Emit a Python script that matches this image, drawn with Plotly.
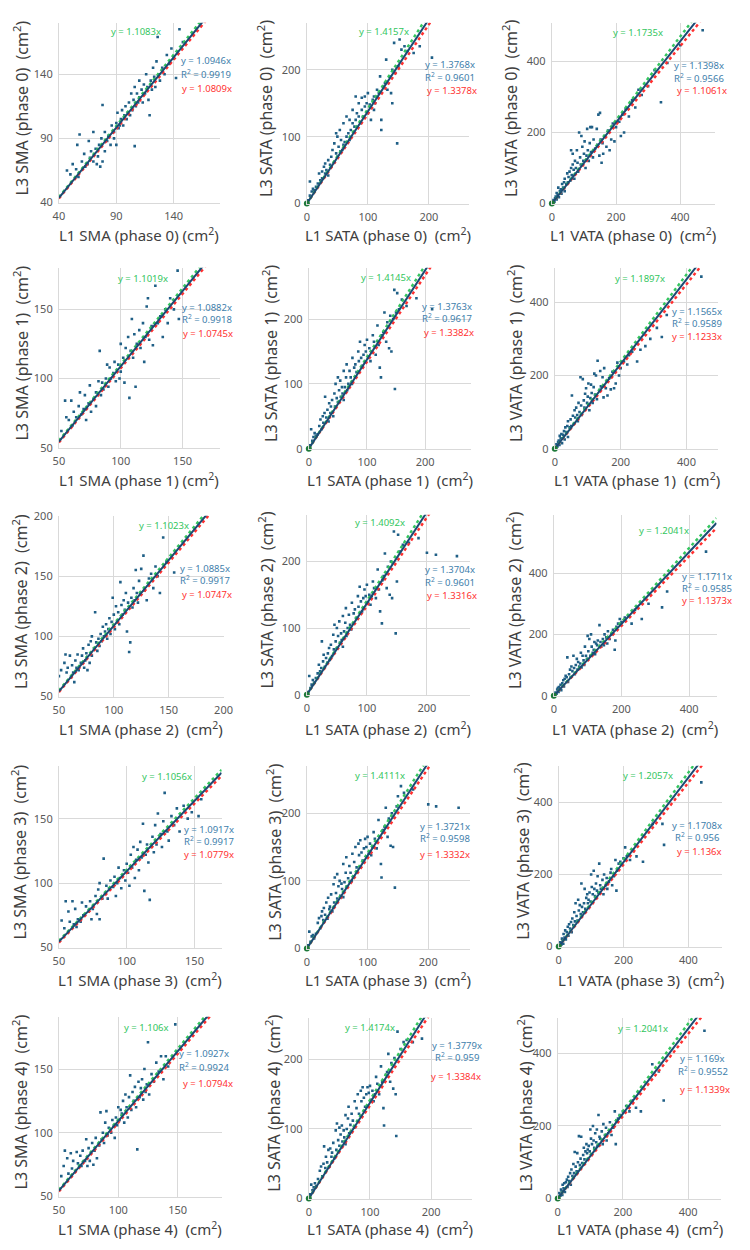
import plotly.graph_objects as go

# ---------------- data (L1 value, L3 value) pairs ----------------
sma_ph0 = [(47,65),(50,62),(52,70),(55,66),(57,60),(58,93),(56,85),(60,72),(62,78),(63,68),(65,70),(66,88),(67,75),(68,80),(70,72),(70,95),(72,82),(73,70),(74,76),(75,85),(76,68),(77,90),(78,72),(78,116),(80,80),(80,95),(82,88),(83,92),(85,85),(86,100),(88,95),(88,90),(90,102),(90,85),(91,110),(92,98),(93,100),(94,105),(95,112),(96,100),(97,108),(98,115),(99,105),(100,110),(101,118),(102,108),(103,125),(104,112),(105,120),(106,84),(106,130),(107,115),(108,125),(109,118),(110,122),(110,135),(112,128),(113,118),(114,132),(115,125),(116,140),(117,130),(118,120),(119,108),(120,135),(121,128),(122,145),(123,138),(124,130),(125,150),(126,169),(127,140),(128,135),(130,145),(132,140),(134,155),(136,148),(138,160),(140,152),(142,137),(145,175),(148,165)]
sata_ph0 = [(2,5),(5,12),(8,18),(5,33),(10,22),(12,20),(15,25),(18,30),(20,45),(22,35),(25,48),(25,38),(28,55),(30,45),(30,60),(32,50),(35,65),(35,42),(38,58),(40,70),(40,55),(42,80),(45,62),(45,90),(48,75),(48,105),(50,70),(50,100),(52,85),(54,110),(55,78),(56,95),(58,80),(60,88),(60,120),(62,92),(65,100),(65,130),(68,105),(70,95),(70,125),(72,110),(75,120),(75,140),(78,115),(80,125),(80,160),(82,135),(85,130),(85,150),(88,120),(90,140),(90,158),(92,130),(95,160),(95,145),(98,150),(100,165),(100,135),(103,148),(105,125),(108,155),(110,160),(110,140),(112,150),(115,170),(118,165),(120,190),(122,110),(122,125),(125,175),(128,180),(130,215),(132,170),(135,190),(138,165),(140,200),(140,150),(143,240),(145,195),(148,90),(150,205),(152,245),(155,230),(160,235),(165,228),(175,225),(185,235),(205,218)]
vata_ph0 = [(3,3),(5,10),(8,5),(10,15),(12,20),(15,12),(15,30),(18,25),(20,45),(22,18),(25,35),(28,40),(30,28),(32,55),(35,45),(38,60),(40,35),(40,70),(45,55),(48,85),(50,60),(52,75),(55,90),(58,65),(60,100),(60,150),(62,80),(65,110),(65,140),(68,95),(70,70),(72,120),(75,100),(78,150),(80,115),(82,90),(85,200),(88,130),(90,110),(92,190),(95,160),(98,120),(100,140),(102,175),(105,100),(108,135),(110,210),(112,150),(115,120),(118,170),(120,215),(122,145),(125,215),(128,130),(130,180),(135,155),(140,210),(142,165),(145,250),(148,135),(150,255),(152,180),(155,115),(158,170),(160,140),(165,190),(170,160),(175,205),(180,150),(185,180),(190,225),(195,175),(200,215),(210,230),(215,190),(220,250),(225,200),(230,265),(240,245),(250,290),(260,270),(270,320),(280,305),(300,330),(320,375),(340,285),(360,395),(400,445),(470,487)]

sma_ph1 = [(52,62),(55,84),(56,72),(58,70),(60,84),(61,66),(62,76),(64,72),(66,80),(67,90),(68,74),(70,78),(71,88),(72,70),(74,82),(75,95),(76,76),(78,85),(80,80),(80,90),(82,98),(83,120),(84,88),(85,97),(86,92),(88,100),(89,110),(90,94),(91,108),(92,100),(94,104),(95,112),(96,98),(98,110),(99,100),(100,125),(100,105),(102,115),(103,97),(104,122),(106,130),(107,86),(108,120),(109,143),(110,115),(111,132),(112,94),(113,125),(115,135),(116,122),(118,140),(119,112),(120,130),(121,152),(122,158),(123,128),(125,138),(126,124),(128,167),(130,140),(132,145),(134,130),(136,150),(138,140),(140,158),(143,150),(146,178),(147,143)]
sata_ph1 = [(2,5),(4,30),(6,12),(8,18),(10,24),(12,20),(15,22),(18,35),(20,45),(22,30),(24,50),(25,40),(27,55),(28,80),(30,48),(32,60),(34,42),(35,70),(37,55),(38,65),(40,75),(42,50),(44,85),(45,65),(46,100),(48,78),(50,110),(50,72),(52,90),(54,105),(55,80),(57,95),(58,85),(60,120),(60,75),(62,95),(64,110),(65,130),(66,90),(68,100),(70,120),(72,110),(74,100),(75,140),(78,125),(80,130),(82,118),(85,150),(86,135),(88,165),(90,140),(92,128),(94,145),(96,160),(98,150),(100,168),(102,140),(104,155),(106,135),(108,150),(110,175),(112,165),(115,145),(118,190),(120,160),(122,125),(124,110),(126,175),(128,180),(130,210),(133,165),(135,195),(138,155),(140,205),(142,150),(145,200),(147,245),(148,92),(150,210),(152,240),(155,215),(160,230),(168,220),(185,232),(212,215)]
vata_ph1 = [(3,4),(5,12),(8,6),(10,18),(12,22),(14,10),(15,35),(18,28),(20,40),(22,15),(25,38),(28,48),(30,25),(32,58),(35,45),(38,62),(40,32),(40,75),(45,58),(48,80),(50,62),(52,145),(55,90),(58,68),(60,105),(62,85),(65,112),(68,92),(70,75),(72,125),(75,100),(78,195),(80,118),(82,92),(85,190),(88,132),(90,112),(92,150),(95,165),(98,125),(100,142),(102,178),(105,105),(108,138),(110,175),(112,152),(115,125),(118,168),(120,205),(122,148),(125,200),(128,135),(130,240),(135,160),(138,212),(140,170),(145,195),(148,140),(150,220),(155,165),(158,185),(160,145),(165,192),(170,162),(175,210),(180,165),(185,178),(190,235),(195,200),(200,220),(210,238),(220,230),(225,255),(235,265),(250,238),(260,270),(275,280),(290,300),(310,330),(325,305),(340,365),(445,470)]

sma_ph2 = [(50,67),(52,72),(55,78),(56,85),(57,70),(58,74),(60,84),(61,66),(62,76),(63,70),(64,62),(65,80),(66,74),(67,85),(68,72),(70,78),(71,84),(72,90),(73,74),(74,80),(75,86),(76,72),(77,93),(78,78),(79,96),(80,84),(80,100),(82,90),(83,120),(84,95),(85,88),(86,98),(87,92),(88,102),(89,96),(90,108),(91,100),(92,104),(93,110),(94,98),(95,106),(96,115),(97,102),(98,112),(99,132),(100,118),(101,106),(102,125),(103,112),(104,120),(105,110),(106,145),(107,126),(108,118),(109,130),(110,122),(111,136),(112,104),(113,128),(114,87),(115,95),(116,132),(117,124),(118,140),(119,130),(120,155),(121,136),(122,128),(123,146),(124,135),(125,156),(127,167),(128,138),(130,130),(132,148),(134,152),(136,140),(138,158),(140,150),(142,136),(145,182),(148,162),(155,153)]
sata_ph2 = [(2,4),(4,28),(6,10),(8,15),(10,22),(12,18),(15,25),(18,32),(20,45),(22,35),(24,40),(25,80),(27,50),(28,60),(30,42),(32,55),(34,48),(35,62),(37,70),(38,52),(40,75),(42,58),(44,90),(45,68),(46,105),(48,80),(50,100),(50,70),(52,88),(54,110),(55,78),(57,92),(58,82),(60,118),(60,72),(62,95),(64,108),(65,130),(66,88),(68,100),(70,120),(72,105),(74,98),(75,138),(78,122),(80,128),(82,115),(85,148),(86,132),(88,162),(90,140),(92,125),(94,145),(96,158),(98,148),(100,165),(102,138),(104,150),(106,135),(108,148),(110,170),(112,160),(115,145),(118,188),(120,158),(122,125),(125,107),(126,172),(128,178),(130,212),(133,160),(135,192),(138,150),(140,200),(142,145),(145,245),(148,92),(150,170),(152,240),(155,215),(160,225),(170,228),(186,235),(200,213),(215,210),(250,208)]
vata_ph2 = [(3,3),(5,10),(8,6),(10,20),(12,25),(14,12),(15,28),(18,22),(20,35),(22,18),(25,40),(28,50),(30,30),(32,55),(35,65),(38,60),(40,125),(42,45),(45,70),(48,85),(50,60),(52,95),(55,80),(58,130),(60,90),(62,70),(65,100),(68,120),(70,85),(72,110),(75,95),(78,105),(80,140),(82,92),(85,130),(88,115),(90,100),(92,160),(95,130),(98,120),(100,195),(102,145),(105,185),(108,130),(110,200),(112,160),(115,140),(118,150),(120,175),(122,135),(125,170),(128,165),(130,180),(135,230),(138,175),(140,160),(145,185),(148,165),(150,200),(155,190),(158,170),(160,210),(165,185),(170,200),(175,215),(180,150),(182,180),(185,225),(190,235),(195,250),(200,240),(210,255),(220,262),(230,235),(240,280),(260,250),(280,300),(320,288),(335,340),(450,470)]

sma_ph3 = [(52,71),(54,65),(55,86),(57,78),(58,70),(60,86),(61,68),(62,80),(63,66),(64,72),(66,70),(67,85),(68,75),(70,82),(72,78),(73,86),(74,72),(75,80),(77,90),(78,76),(79,95),(80,72),(80,100),(82,88),(83,119),(84,92),(85,98),(86,88),(87,96),(88,102),(90,97),(91,105),(92,90),(93,100),(94,112),(95,104),(96,96),(98,110),(99,102),(100,115),(101,108),(102,98),(103,122),(104,112),(105,128),(106,104),(107,118),(108,126),(109,110),(110,132),(111,120),(112,146),(113,94),(114,122),(115,130),(116,116),(117,87),(118,128),(119,136),(120,124),(121,145),(122,130),(123,154),(125,138),(126,128),(127,148),(128,170),(130,140),(131,133),(133,152),(135,145),(137,158),(139,140),(142,160),(145,150),(148,155),(153,152),(155,165)]
sata_ph3 = [(2,5),(4,25),(6,10),(8,18),(10,20),(12,15),(15,22),(18,38),(20,45),(22,30),(24,48),(25,55),(27,42),(28,60),(30,50),(32,68),(34,44),(35,75),(37,58),(38,62),(40,80),(42,55),(44,95),(45,68),(46,105),(48,82),(50,110),(50,74),(52,92),(54,100),(55,78),(57,96),(58,88),(60,125),(60,76),(62,98),(64,112),(65,135),(66,92),(68,104),(70,122),(72,112),(74,100),(75,140),(78,128),(80,150),(82,120),(85,155),(86,138),(88,160),(90,142),(92,130),(94,148),(96,162),(98,150),(100,165),(102,140),(104,155),(106,138),(108,150),(110,172),(112,162),(115,148),(118,190),(120,165),(122,125),(123,105),(126,175),(128,180),(130,208),(133,165),(135,192),(138,152),(140,200),(142,150),(145,90),(148,210),(150,225),(155,240),(160,230),(175,235),(200,213),(213,210),(250,208)]
vata_ph3 = [(3,3),(5,12),(8,5),(10,22),(12,18),(14,8),(15,35),(18,25),(20,45),(22,20),(25,40),(28,55),(30,30),(32,62),(35,50),(38,68),(40,40),(42,78),(45,60),(48,95),(50,70),(52,120),(55,85),(58,72),(60,130),(62,100),(65,115),(68,90),(70,175),(72,110),(75,95),(78,120),(80,160),(82,105),(85,135),(88,145),(90,120),(92,130),(95,150),(98,125),(100,200),(102,165),(105,145),(108,210),(110,160),(112,140),(115,175),(118,155),(120,195),(122,150),(125,230),(128,170),(130,160),(135,185),(138,145),(140,200),(145,170),(148,190),(150,160),(155,180),(160,205),(162,215),(165,170),(170,195),(175,240),(178,155),(180,210),(185,230),(190,235),(200,245),(205,275),(210,250),(220,240),(230,265),(240,250),(260,235),(290,340),(320,340),(325,282),(440,455)]

sma_ph4 = [(52,66),(54,74),(55,86),(57,80),(58,68),(60,84),(61,72),(62,78),(64,70),(65,85),(66,76),(68,82),(69,74),(70,86),(72,78),(73,95),(74,74),(75,88),(76,78),(78,92),(79,75),(80,86),(81,96),(82,80),(84,90),(85,116),(86,95),(87,100),(88,92),(89,108),(90,117),(91,98),(92,104),(94,100),(95,110),(96,105),(97,96),(98,112),(99,106),(100,120),(101,110),(102,118),(103,115),(104,125),(105,108),(106,130),(107,120),(108,112),(109,128),(110,145),(111,118),(112,132),(113,125),(114,136),(115,120),(116,87),(117,140),(118,128),(119,135),(120,142),(121,126),(122,150),(123,132),(124,138),(125,171),(126,130),(128,146),(130,140),(132,155),(134,148),(136,160),(138,142),(140,160),(142,152),(148,185)]
sata_ph4 = [(2,6),(4,20),(6,12),(8,16),(10,22),(12,18),(15,28),(18,40),(20,46),(22,32),(24,50),(25,75),(27,44),(28,60),(30,52),(32,70),(34,46),(35,72),(37,60),(38,66),(40,80),(42,58),(44,98),(45,70),(46,108),(48,84),(50,102),(50,76),(52,92),(54,105),(55,82),(57,98),(58,88),(60,120),(60,78),(62,100),(64,115),(65,132),(66,94),(68,106),(70,122),(72,112),(74,102),(75,140),(78,130),(80,150),(82,122),(85,155),(86,140),(88,160),(90,145),(92,132),(94,150),(96,160),(98,152),(100,162),(102,142),(104,155),(106,140),(108,150),(110,175),(112,165),(115,150),(118,190),(120,168),(122,130),(123,105),(126,178),(128,182),(130,208),(133,168),(135,195),(138,158),(140,202),(142,150),(143,90),(145,240),(150,215),(155,225),(160,228),(170,225),(185,230)]
vata_ph4 = [(3,5),(5,15),(8,8),(10,25),(12,20),(14,10),(15,38),(18,28),(20,42),(22,18),(25,45),(28,52),(30,32),(32,60),(35,48),(38,70),(40,38),(42,80),(45,62),(48,95),(50,70),(52,128),(55,88),(58,75),(60,125),(62,100),(65,172),(68,92),(70,110),(72,170),(75,98),(78,120),(80,140),(82,108),(85,130),(88,150),(90,125),(92,135),(95,145),(98,130),(100,190),(102,165),(105,150),(108,200),(110,160),(112,140),(115,180),(118,155),(120,190),(122,145),(125,230),(128,170),(130,165),(135,185),(138,150),(140,205),(145,175),(148,195),(150,160),(155,180),(160,210),(165,175),(170,195),(175,240),(178,150),(180,215),(185,220),(190,230),(200,240),(210,255),(220,240),(230,270),(240,250),(255,240),(290,370),(310,350),(325,270),(450,462)]

measures = ["SMA", "SATA", "VATA"]
phases = [0, 1, 2, 3, 4]
points = [[sma_ph0, sata_ph0, vata_ph0],
          [sma_ph1, sata_ph1, vata_ph1],
          [sma_ph2, sata_ph2, vata_ph2],
          [sma_ph3, sata_ph3, vata_ph3],
          [sma_ph4, sata_ph4, vata_ph4]]

slope_green = [[1.1083, 1.4157, 1.1735], [1.1019, 1.4145, 1.1897], [1.1023, 1.4092, 1.2041],
               [1.1056, 1.4111, 1.2057], [1.106, 1.4174, 1.2041]]
slope_blue = [[1.0946, 1.3768, 1.1398], [1.0882, 1.3763, 1.1565], [1.0885, 1.3704, 1.1711],
              [1.0917, 1.3721, 1.1708], [1.0927, 1.3779, 1.169]]
r2_blue = [[0.9919, 0.9601, 0.9566], [0.9918, 0.9617, 0.9589], [0.9917, 0.9601, 0.9585],
           [0.9917, 0.9598, 0.956], [0.9924, 0.959, 0.9552]]
slope_red = [[1.0809, 1.3378, 1.1061], [1.0745, 1.3382, 1.1233], [1.0747, 1.3316, 1.1373],
             [1.0779, 1.3332, 1.136], [1.0794, 1.3384, 1.1339]]

sma_ticks = [[40, 90, 140], [50, 100, 150], [50, 100, 150, 200], [50, 100, 150], [50, 100, 150]]
sata_ticks = [0, 100, 200]
vata_ticks = [0, 200, 400]

# ---------------- layout (pixels in a 750 x 1250 page) ----------------
W, H = 750, 1250
# (left, right, top, bottom) of each plot area
boxes = [[(54, 218, 15, 197), (307, 472, 15, 198), (557, 723, 15, 198)],
         [(54, 218, 263, 445), (309, 474, 263, 446), (560, 727, 263, 446)],
         [(54, 222, 514, 697), (307, 473, 513, 695), (559, 725, 513, 696)],
         [(54, 220, 767, 951), (307, 473, 767, 952), (564, 731, 767, 950)],
         [(54, 220, 1021, 1203), (309, 475, 1022, 1205), (563, 730, 1022, 1205)]]
xranges = [[(40, 180), (0, 265), (0, 507)],
           [(50, 180), (0, 278), (0, 497)],
           [(50, 200), (0, 271), (0, 481)],
           [(50, 170), (0, 268), (0, 505)],
           [(50, 187), (0, 266), (0, 502)]]
yranges = [[(40, 180), (0, 270), (0, 508)],
           [(50, 180), (0, 279), (0, 494)],
           [(50, 200), (0, 270), (0, 590)],
           [(50, 191), (0, 270), (0, 501)],
           [(50, 191), (0, 260), (0, 498)]]
# green (x,y), blue (x, y1, y2), red (x,y)
ann_pos = [[(133, 24, 204, 53, 67, 205, 81), (386, 24, 453, 57, 70, 455, 83), (645, 25, 707, 58, 71, 710, 84)],
           [(140, 274, 205, 303, 315, 206, 329), (388, 273, 450, 302, 314, 452, 328), (647, 274, 705, 307, 319, 705, 332)],
           [(161, 524, 203, 567, 579, 205, 594), (382, 521, 453, 568, 581, 455, 595), (671, 529, 715, 575, 587, 715, 600)],
           [(164, 778, 207, 831, 843, 207, 857), (382, 777, 448, 828, 840, 448, 857), (655, 777, 705, 827, 839, 708, 854)],
           [(143, 1032, 202, 1058, 1072, 206, 1089), (371, 1032, 460, 1050, 1062, 459, 1081), (650, 1033, 711, 1063, 1076, 713, 1095)]]
xtitle_y = [229, 477, 729, 983, 1235]
ytitle_x = [[15, 265, 515], [15, 270, 520], [15, 265, 519], [13, 274, 527], [14, 273, 530]]

FONT = "Noto Sans"
C_PT = "#1f5f86"
C_BLUE_LINE = "#1b4a73"
C_BLUE_TXT = "#3e7eab"
C_GREEN = "#33c65e"
C_RED = "#ff3030"
C_GRID = "#d9d9d9"
C_TICK = "#595959"
C_TITLE = "#404040"

def px(x):
    return x / W

def py(y):
    return 1 - y / H

fig = go.Figure()
annotations = []
layout_axes = {}
n = 0
for r, ph in enumerate(phases):
    for c, meas in enumerate(measures):
        n += 1
        xa = "x" if n == 1 else f"x{n}"
        ya = "y" if n == 1 else f"y{n}"
        L, R, T, B = boxes[r][c]
        x0, x1 = xranges[r][c]
        ticks = sma_ticks[r] if c == 0 else (sata_ticks if c == 1 else vata_ticks)
        common = dict(showgrid=True, gridcolor=C_GRID, gridwidth=1, zeroline=False,
                      showline=True, linecolor=C_GRID, linewidth=1,
                      tickmode="array", tickvals=ticks,
                      ticks="outside", tickcolor="rgba(0,0,0,0)",
                      tickfont=dict(family=FONT, size=11, color=C_TICK), fixedrange=True)
        layout_axes["xaxis" if n == 1 else f"xaxis{n}"] = dict(
            common, domain=[px(L), px(R)], range=list(xranges[r][c]), anchor=ya, ticklen=3)
        layout_axes["yaxis" if n == 1 else f"yaxis{n}"] = dict(
            common, domain=[py(B), py(T)], range=list(yranges[r][c]), anchor=xa, ticklen=3)

        pts = points[r][c]
        fig.add_trace(go.Scatter(x=[p[0] for p in pts], y=[p[1] for p in pts], mode="markers",
                                 marker=dict(size=2.6, color=C_PT, symbol="square"),
                                 xaxis=xa, yaxis=ya, showlegend=False, hoverinfo="skip"))
        lx = [x0, x1]
        for k, col, dash, w in [(slope_red[r][c], C_RED, "dot", 2.4),
                                (slope_green[r][c], C_GREEN, "dot", 2.4),
                                (slope_blue[r][c], C_BLUE_LINE, "solid", 2)]:
            fig.add_trace(go.Scatter(x=lx, y=[k * v for v in lx], mode="lines",
                                     line=dict(color=col, width=w, dash=dash),
                                     xaxis=xa, yaxis=ya, showlegend=False, hoverinfo="skip"))
        if c > 0:
            fig.add_trace(go.Scatter(x=[0], y=[0], mode="markers",
                                     marker=dict(size=6, color="#1e7a3a"), cliponaxis=False,
                                     xaxis=xa, yaxis=ya, showlegend=False, hoverinfo="skip"))

        gx, gy, bx, by1, by2, rx, ry = ann_pos[r][c]
        for txt, ax_, ay_, colr in [(f"y = {slope_green[r][c]}x", gx, gy, C_GREEN),
                                     (f"y = {slope_blue[r][c]}x", bx, by1, C_BLUE_TXT),
                                     (f"R<sup>2</sup> = {r2_blue[r][c]}", bx, by2, C_BLUE_TXT),
                                     (f"y = {slope_red[r][c]}x", rx, ry, C_RED)]:
            annotations.append(dict(text=txt, x=px(ax_), y=py(ay_), xref="paper", yref="paper",
                                    xanchor="center", yanchor="middle", showarrow=False,
                                    font=dict(family=FONT, size=9.5, color=colr)))
        sp = "\u00a0 " if (c > 0 or r >= 2) else " "
        annotations.append(dict(text=f"L1 {meas} (phase {ph}){sp}(cm<sup>2</sup>)",
                                x=px((L + R) / 2), y=py(xtitle_y[r]), xref="paper", yref="paper",
                                xanchor="center", yanchor="middle", showarrow=False,
                                font=dict(family=FONT, size=15, color=C_TITLE)))
        annotations.append(dict(text=f"L3 {meas} (phase {ph})\u00a0 (cm<sup>2</sup>)",
                                x=px(ytitle_x[r][c]), y=py((T + B) / 2 - 5), xref="paper", yref="paper",
                                xanchor="center", yanchor="middle", showarrow=False, textangle=-90,
                                font=dict(family=FONT, size=16, color=C_TITLE)))

fig.update_layout(width=W, height=H, margin=dict(l=0, r=0, t=0, b=0),
                  paper_bgcolor="white", plot_bgcolor="white",
                  font=dict(family=FONT), annotations=annotations, **layout_axes)
fig.write_html("out.html")
